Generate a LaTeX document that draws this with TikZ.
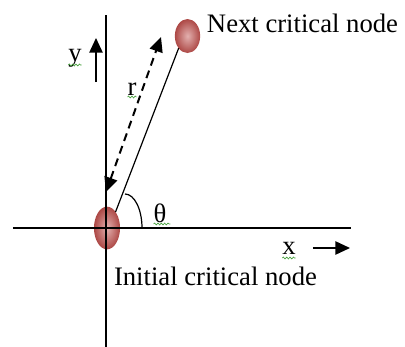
\documentclass[tikz,border=0pt]{standalone}
\usepackage{fontspec}
\setmainfont{Liberation Serif}
\usetikzlibrary{shapes.geometric,arrows.meta,decorations.pathmorphing}
\definecolor{critred}{RGB}{192,80,77}
\definecolor{spellgreen}{RGB}{70,160,60}
\begin{document}
\begin{tikzpicture}[x=0.75pt, y=-0.75pt,
  every node/.style={font=\fontsize{20}{24}\selectfont, inner sep=0pt, outer sep=0pt},
  crit/.style={ellipse, inner color=critred!45!white, outer color=critred!90!black},
  squiggle/.style={draw=spellgreen, line width=0.5pt, decorate, decoration={snake, amplitude=0.7pt, segment length=2.5pt}},
  >={Triangle[length=11pt, width=10pt]}]
\useasboundingbox (0,0) rectangle (405,347);
\node[crit, minimum width=19.5pt, minimum height=32pt] (init) at (107,228) {};
\node[crit, minimum width=19pt, minimum height=25.5pt] (next) at (187.5,36) {};
\draw[line width=1.1pt] (106,15) -- (106,347);
\draw[line width=1.1pt] (13,228) -- (351,228);
\draw[line width=0.9pt] (init.62) -- (next.234);
\coordinate (rlow) at (106,192);
\coordinate (rhigh) at (161,37);
\draw[<->, dash pattern=on 6pt off 4pt, line width=1.5pt] (rlow) -- (rhigh);
\draw[line width=0.9pt] (125,194) arc[start angle=-90, end angle=0, x radius=17, y radius=34];
\draw[->, line width=1.2pt] (96,82) -- (96,38);
\draw[->, line width=1.2pt] (313,248) -- (350,248);
\node[anchor=base] (ylab) at (75,61) {y};
\node[anchor=base] (rlab) at (132,95) {r};
\node[anchor=base] (thetalab) at (160,222) {θ};
\node[anchor=base] (xlab) at (289,254) {x};
\node[anchor=base west] (nextlab) at (207,32) {Next critical node};
\node[anchor=base west] (initlab) at (114,285) {Initial critical node};
\draw[squiggle] ([yshift=-3pt]ylab.base west) -- ([yshift=-3pt]ylab.base east);
\draw[squiggle] ([yshift=-1.5pt]rlab.base west) -- ([yshift=-1.5pt]rlab.base east);
\draw[squiggle] ([yshift=-1.5pt]thetalab.base west) -- ([xshift=3pt, yshift=-1.5pt]thetalab.base east);
\draw[squiggle] ([yshift=-3pt]xlab.base west) -- ([yshift=-3pt]xlab.base east);
\end{tikzpicture}
\end{document}
